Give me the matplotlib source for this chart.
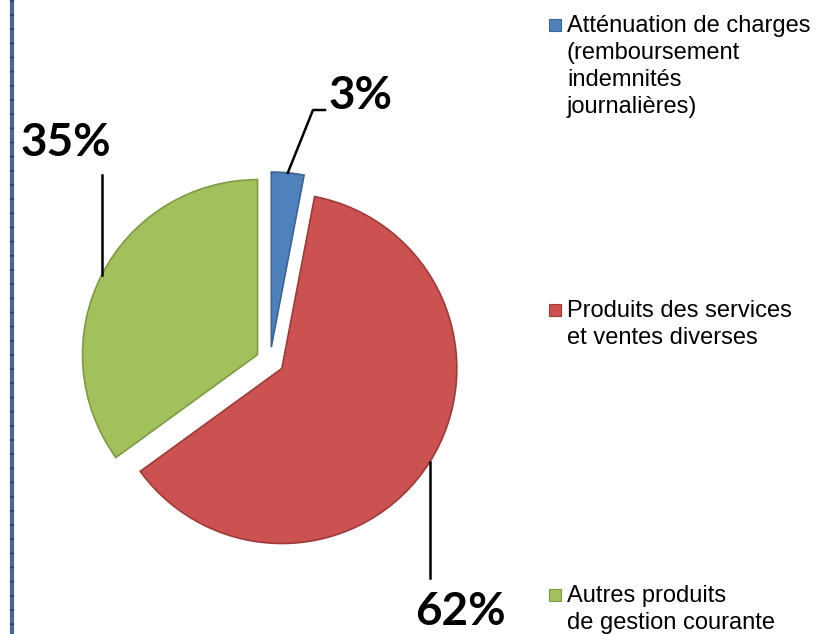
import numpy as np
import matplotlib.pyplot as plt
from matplotlib.patches import Rectangle

# data
categories = ["Atténuation de charges\n(remboursement\nindemnités\njournalières)",
              "Produits des services\net ventes diverses",
              "Autres produits\nde gestion courante"]
values = [3, 62, 35]
pct_labels = ["3%", "62%", "35%"]
colors = ["#4F81BD", "#CB5250", "#A2C15C"]
edges = ["#3A6397", "#9E3B39", "#7F9A45"]

W, H = 820, 634
cx, cy, R = 270, 361, 175   # pie centre / radius in pixels


def px(x, y):
    # pixel coordinates -> data coordinates (radius = 1)
    return (x - cx) / R, (cy - y) / R


fig = plt.figure(figsize=(W / 100, H / 100), dpi=100)
ax = fig.add_axes([0, 0, 1, 1])

wedges, _ = ax.pie(values, colors=colors, startangle=90, counterclock=False,
                   explode=[0.08, 0.08, 0.08], radius=1,
                   wedgeprops=dict(linewidth=1.2))
for w, ec in zip(wedges, edges):
    w.set_edgecolor(ec)

ax.set_xlim(-cx / R, (W - cx) / R)
ax.set_ylim(-(H - cy) / R, cy / R)
ax.axis("off")

# leader anchors = mid angle of each wedge on its arc
def anchor(w):
    t = np.deg2rad((w.theta1 + w.theta2) / 2)
    return w.center[0] + w.r * np.cos(t), w.center[1] + w.r * np.sin(t)

lab_kw = dict(fontsize=33, fontweight="bold", family=["Lato", "DejaVu Sans"], color="black")

# 3%
a = anchor(wedges[0])
p1, p2 = px(313, 110), px(325, 110)
ax.plot([a[0], p1[0], p2[0]], [a[1], p1[1], p2[1]], color="black", lw=1.8)
ax.text(*px(329, 96), pct_labels[0], ha="left", va="center", **lab_kw)

# 62%
a = anchor(wedges[1])
p1 = px(0, 578)
ax.plot([a[0], a[0]], [a[1], p1[1]], color="black", lw=1.8)
ax.text(*px(460, 612), pct_labels[1], ha="center", va="center", **lab_kw)

# 35%
a = anchor(wedges[2])
p1 = px(0, 175)
ax.plot([a[0], a[0]], [a[1], p1[1]], color="black", lw=1.8)
ax.text(*px(66, 143), pct_labels[2], ha="center", va="center", **lab_kw)

# legend
leg_y = [25, 310, 595]
for cat, col, ec, y in zip(categories, colors, edges, leg_y):
    x0, y0 = px(549, y + 6)
    ax.add_patch(Rectangle((x0, y0), 12 / R, 12 / R, facecolor=col,
                           edgecolor=ec, lw=0.8, clip_on=False))
    ax.text(*px(567, y - 10), cat, ha="left", va="top",
            fontsize=17, family="Liberation Sans", linespacing=1.3)

# border on the left
bx = px(12, 0)[0]
ax.plot([bx, bx], [px(0, 0)[1], px(0, H)[1]], color="#466894", lw=3)
ax.plot([bx, bx], [px(0, 0)[1], px(0, H)[1]], color="#27446C", lw=3,
        ls=(0, (0.4, 3)))

fig.savefig("out.png", dpi=100)
